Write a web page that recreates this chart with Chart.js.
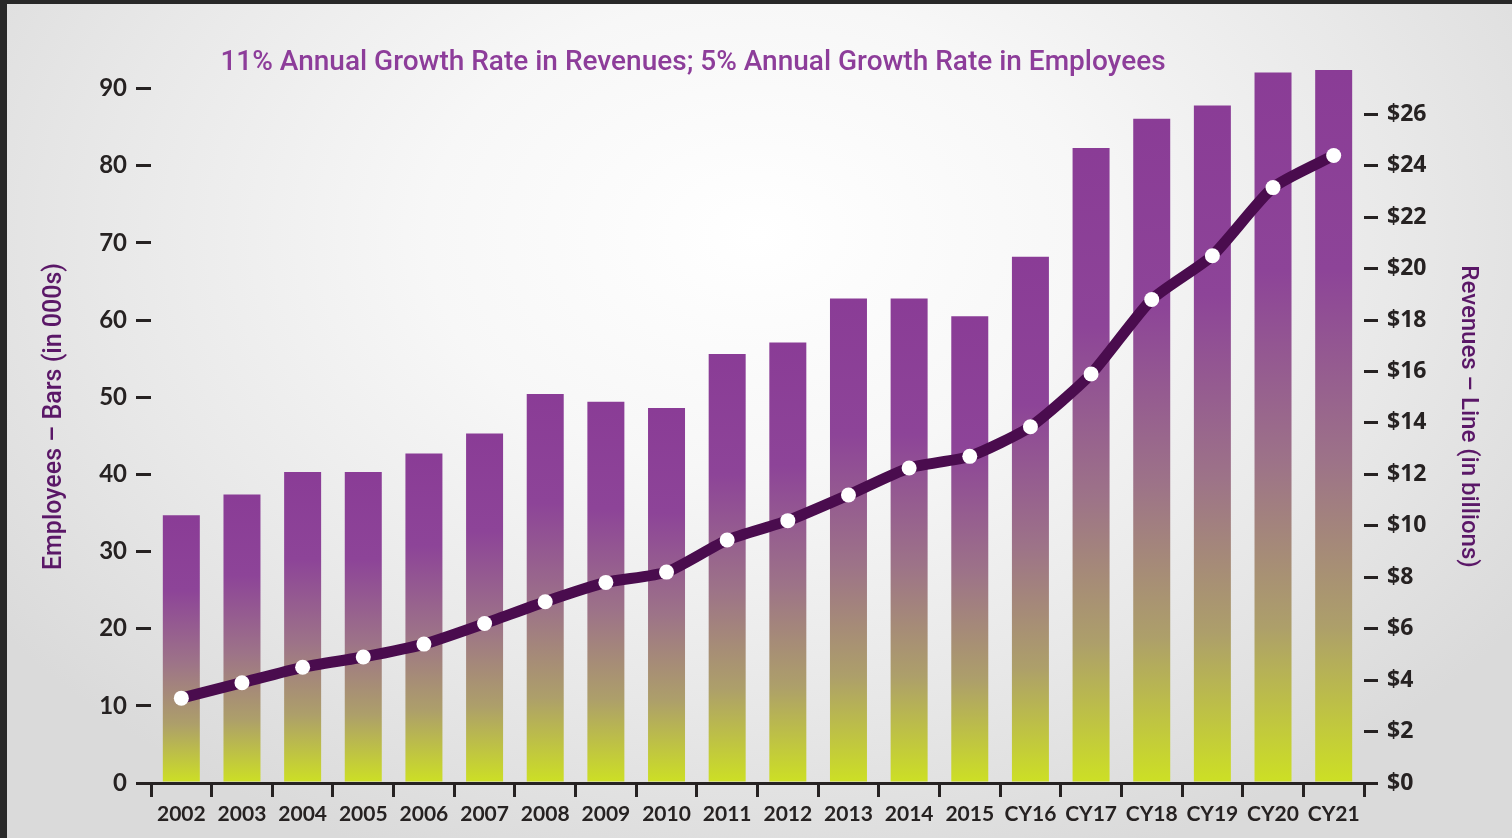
<!DOCTYPE html>
<html>
<head>
<meta charset="utf-8">
<title>Revenues and Employees</title>
<script src="https://cdn.jsdelivr.net/npm/chart.js@4"></script>
<style>
  html, body { margin: 0; padding: 0; }
  body {
    width: 1512px; height: 838px; overflow: hidden; position: relative;
    background: radial-gradient(ellipse 62% 80% at 50% 28%, #ffffff 0%, #f7f7f7 35%, #e8e8e8 70%, #dadada 100%);
  }
  #wrap { position: absolute; left: 0; top: 0; width: 1512px; height: 838px; }
  #frame {
    position: absolute; left: 0; top: 0; width: 1512px; height: 838px;
    box-sizing: border-box; border-top: 4px solid #282828; border-left: 7px solid #282828;
    pointer-events: none;
  }
</style>
</head>
<body>
<div id="wrap"><canvas id="growth"></canvas></div>
<div id="frame"></div>
<script>
const years = ['2002', '2003', '2004', '2005', '2006', '2007', '2008', '2009', '2010', '2011',
  '2012', '2013', '2014', '2015', 'CY16', 'CY17', 'CY18', 'CY19', 'CY20', 'CY21'];

// employees in thousands (bars)
const employees = [34.7, 37.4, 40.3, 40.3, 42.7, 45.3, 50.4, 49.4, 48.6, 55.6,
  57.1, 62.8, 62.8, 60.5, 68.2, 82.3, 86.1, 87.8, 92.1, 92.4];

// revenues in billions (line)
const revenues = [3.3, 3.9, 4.5, 4.9, 5.4, 6.2, 7.05, 7.8, 8.2, 9.45,
  10.2, 11.2, 12.25, 12.7, 13.85, 15.9, 18.8, 20.5, 23.15, 24.4];

const employeeTicks = [0, 10, 20, 30, 40, 50, 60, 70, 80, 90];
const revenueTicks = [0, 2, 4, 6, 8, 10, 12, 14, 16, 18, 20, 22, 24, 26];

const headline = '11% Annual Growth Rate in Revenues; 5% Annual Growth Rate in Employees';

const ink = '#262222';
const plum = '#4a0c4e';

// each bar fades from purple at its top to lime at the baseline
function barFill(c) {
  const chart = c.chart;
  if (!chart.chartArea || c.type !== 'data') return '#8b3e97';
  const y = chart.scales.y;
  const top = y.getPixelForValue(c.raw);
  const base = y.getPixelForValue(0);
  const g = chart.ctx.createLinearGradient(0, top, 0, base);
  g.addColorStop(0, '#8a3c96');
  g.addColorStop(0.28, '#8d4498');
  g.addColorStop(0.55, '#9d7388');
  g.addColorStop(0.78, '#ad9f6a');
  g.addColorStop(1, '#cde024');
  return g;
}

const headlinePlugin = {
  id: 'headline',
  afterDraw(chart) {
    const ctx = chart.ctx;
    ctx.save();
    ctx.font = '500 28px Roboto';
    ctx.fillStyle = '#8d3d9a';
    ctx.textAlign = 'center';
    ctx.textBaseline = 'alphabetic';
    ctx.fillText(headline, 693, 70);
    ctx.restore();
  }
};

new Chart(document.getElementById('growth'), {
  type: 'bar',
  data: {
    labels: years,
    datasets: [
      {
        type: 'line',
        label: 'Revenues',
        data: revenues,
        yAxisID: 'y1',
        order: 0,
        borderColor: plum,
        borderWidth: 11,
        borderJoinStyle: 'round',
        borderCapStyle: 'round',
        tension: 0.2,
        pointRadius: 7.5,
        pointBackgroundColor: '#ffffff',
        pointBorderWidth: 0
      },
      {
        label: 'Employees',
        data: employees,
        yAxisID: 'y',
        order: 1,
        backgroundColor: barFill,
        categoryPercentage: 1,
        barPercentage: 0.61
      }
    ]
  },
  options: {
    responsive: true,
    maintainAspectRatio: false,
    animation: false,
    events: [],
    layout: { padding: { top: 50, left: 0, right: 0, bottom: 0 } },
    plugins: {
      legend: { display: false },
      tooltip: { enabled: false }
    },
    scales: {
      x: {
        offset: true,
        grid: { offset: true, drawOnChartArea: false, tickLength: 14, color: ink, lineWidth: 3 },
        border: { display: true, color: ink, width: 3 },
        ticks: {
          color: ink,
          font: { family: 'Lato', size: 21, weight: 'bold' },
          padding: 5,
          maxRotation: 0,
          autoSkip: false
        },
        afterFit(s) { s.height = 55; }
      },
      y: {
        position: 'left',
        min: 0,
        max: 95,
        afterBuildTicks(s) { s.ticks = employeeTicks.map(v => ({ value: v })); },
        grid: { drawOnChartArea: false, tickLength: 15, color: ink, lineWidth: 3 },
        border: { display: false },
        ticks: {
          color: ink,
          font: { family: 'Lato', size: 24, weight: 'bold' },
          padding: 9
        },
        title: {
          display: true,
          text: 'Employees – Bars (in 000s)',
          color: '#5a1767',
          font: { family: 'Roboto', size: 25, weight: '500' },
          padding: { top: 40, bottom: 0 }
        },
        afterFit(s) { s.width = 151; }
      },
      y1: {
        position: 'right',
        min: 0,
        max: 28.5,
        afterBuildTicks(s) { s.ticks = revenueTicks.map(v => ({ value: v })); },
        grid: { drawOnChartArea: false, tickLength: 14, color: ink, lineWidth: 3 },
        border: { display: false },
        ticks: {
          color: ink,
          font: { family: 'Open Sans', size: 23, weight: 'bold' },
          padding: 9,
          callback: v => '$' + v
        },
        title: {
          display: true,
          text: 'Revenues – Line (in billions)',
          color: '#5a1767',
          font: { family: 'Roboto', size: 24, weight: '500' },
          padding: { top: 30, bottom: 0 }
        },
        afterFit(s) { s.width = 148; }
      }
    }
  },
  plugins: [headlinePlugin]
});
</script>
</body>
</html>
